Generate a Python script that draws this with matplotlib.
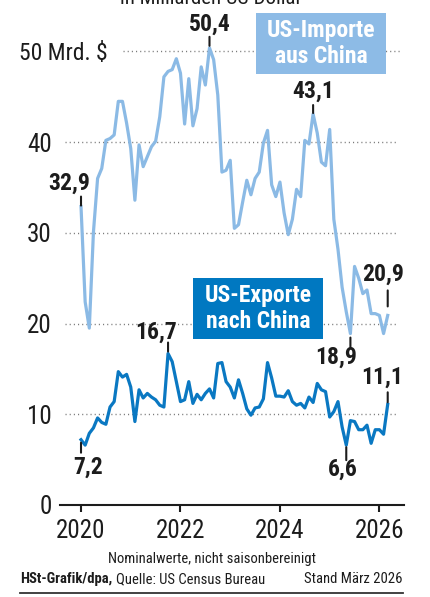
import matplotlib
matplotlib.use("Agg")
import matplotlib.pyplot as plt
from matplotlib import font_manager as fm
from matplotlib.patches import Rectangle
from matplotlib.lines import Line2D

# ---------------- data (billion US$) ----------------
years = [2020, 2022, 2024, 2026]
year_labels = ["2020", "2022", "2024", "2026"]
y_ticks = [0, 10, 20, 30, 40]

imports = [32.9, 22.4, 19.5, 30.1, 36.0, 37.1, 40.2, 40.4, 40.8, 44.5,
           44.5, 42.1, 39.3, 33.6, 39.7, 37.3, 38.4, 39.5, 40.1, 42.8,
           47.2, 47.8, 48.0, 49.2, 47.6, 42.0, 47.0, 41.8, 43.7, 48.3,
           46.3, 50.4, 49.1, 45.2, 36.7, 36.9, 38.0, 30.5, 30.9, 33.4,
           35.8, 34.2, 36.0, 36.7, 39.9, 41.3, 35.3, 34.0, 35.6, 32.2,
           29.8, 31.5, 34.8, 34.0, 40.2, 39.8, 43.1, 41.0, 37.8, 37.4,
           41.4, 31.5, 28.2, 24.0, 21.3, 18.9, 26.3, 25.0, 23.3, 23.7,
           21.1, 21.1, 20.9, 18.9, 20.9]

exports = [7.2, 6.6, 7.9, 8.5, 9.6, 9.1, 8.9, 10.8, 11.4, 14.7,
           14.1, 14.4, 13.0, 9.2, 12.7, 11.8, 12.3, 11.9, 11.6, 11.0,
           10.8, 16.7, 15.8, 13.6, 11.4, 11.6, 13.6, 11.2, 12.2, 11.6,
           12.3, 12.8, 11.8, 15.6, 15.7, 13.6, 13.0, 11.8, 13.8, 12.3,
           10.6, 9.9, 10.7, 10.8, 11.7, 15.7, 14.0, 12.0, 12.0, 11.9,
           12.6, 11.4, 11.0, 11.2, 10.7, 11.9, 11.3, 13.4, 12.7, 12.5,
           9.7, 10.3, 11.4, 8.6, 6.6, 9.3, 9.2, 8.3, 8.3, 8.8,
           6.8, 8.3, 8.3, 7.8, 11.1]

months = list(range(len(imports)))

# ---------------- style ----------------
names = {f.name for f in fm.fontManager.ttflist}
FONT = next(c for c in ["Roboto Condensed", "Liberation Sans Narrow", "Roboto"] if c in names)
plt.rcParams["font.family"] = [FONT, "DejaVu Sans"]

C_IMP = "#8bbae5"
C_IMP_BOX = "#8dbbe6"
C_EXP = "#0a78c2"
C_EXP_BOX = "#0078c1"
C_TXT = "#1c1c1c"
C_GRID = "#7a7a7a"

W, H = 430, 597
fig = plt.figure(figsize=(W / 100, H / 100), dpi=100)
fig.patch.set_facecolor("white")

def fx(px):
    return px / W

def fy(py):
    return 1 - py / H

# axes placed in pixel terms
ax = fig.add_axes([fx(60), fy(505), (404 - 60) / W, (505 - 10) / H])
ax.set_xlim(-5.07, 77.93)
ax.set_ylim(0, 54.57)
ax.set_facecolor("none")
for s in ["left", "right", "top"]:
    ax.spines[s].set_visible(False)
ax.spines["bottom"].set_color(C_TXT)
ax.spines["bottom"].set_linewidth(1.5)

ax.set_xticks([(y - 2020) * 12 for y in years])
ax.set_xticklabels(year_labels)
ax.set_yticks(y_ticks)
ax.set_yticklabels([str(v) for v in y_ticks])
ax.tick_params(axis="x", direction="out", length=5, width=1.5, color=C_TXT,
               labelsize=18, labelcolor=C_TXT, pad=5)
ax.tick_params(axis="y", length=0, labelsize=18, labelcolor=C_TXT, pad=6)

# dotted grid lines
for v in [10, 20, 30, 40]:
    ax.plot([-3.9, 76.5], [v, v], color=C_GRID, lw=1.0, dashes=(0.8, 2.2), zorder=1)
ax.plot([10.2, 77.0], [50, 50], color=C_GRID, lw=1.0, dashes=(0.8, 2.2), zorder=1)
fig.text(fx(108), fy(53), "50 Mrd. $", ha="right", va="center", fontsize=17, color=C_TXT)

# lines
ax.plot(months, imports, color=C_IMP, lw=2.3, solid_joinstyle="round", zorder=3)
ax.plot(months, exports, color=C_EXP, lw=2.3, solid_joinstyle="round", zorder=3)

# value labels with leader lines (offsets in pixels)
def label(series, i, text, dx, dy, l1, l2):
    v = series[i]
    ax.annotate("", xy=(i, v), xytext=(0, l2), textcoords="offset pixels",
                arrowprops=dict(arrowstyle="-", lw=1.5, color=C_TXT,
                                shrinkA=0, shrinkB=abs(l1) * 0.72), zorder=4)
    ax.annotate(text, xy=(i, v), xytext=(dx, dy), textcoords="offset pixels",
                ha="center", va="center", fontsize=17, fontweight="bold",
                color=C_TXT, zorder=5)

label(imports, 31, "50,4", 0, 24, 2, 11)
label(imports, 56, "43,1", 0, 23, 1, 9)
label(imports, 0, "32,9", -12, 23, 1, 10)
label(imports, 74, "20,9", -5, 41, 9, 25)
label(imports, 65, "18,9", -14, -24, -4, -14)
label(exports, 21, "16,7", -12, 21, 2, 11)
label(exports, 74, "11,1", -6, 27, 2, 12)
label(exports, 0, "7,2", 7, -28, -3, -13)
label(exports, 64, "6,6", -3, -24, -2, -15)

# legend boxes
fig.patches.append(Rectangle((fx(256), fy(74)), 130 / W, 61 / H, transform=fig.transFigure,
                             facecolor=C_IMP_BOX, edgecolor="none", zorder=6))
fig.text(fx(321), fy(43.5), "US-Importe\naus China", ha="center", va="center",
         fontsize=17, fontweight="bold", color="white", linespacing=1.2, zorder=7)
fig.patches.append(Rectangle((fx(193), fy(339)), 130 / W, 61 / H, transform=fig.transFigure,
                             facecolor=C_EXP_BOX, edgecolor="none", zorder=6))
fig.text(fx(258), fy(308.5), "US-Exporte\nnach China", ha="center", va="center",
         fontsize=17, fontweight="bold", color="white", linespacing=1.2, zorder=7)

# titles / footer
fig.text(fx(211), fy(4), "in Milliarden US-Dollar", ha="center", va="baseline",
         fontsize=15, color=C_TXT)
fig.text(fx(212), fy(559), "Nominalwerte, nicht saisonbereinigt", ha="center", va="center",
         fontsize=10.5, color=C_TXT)
fig.text(fx(20), fy(579), "HSt-Grafik/dpa,", ha="left", va="center", fontsize=10.5,
         fontweight="bold", color=C_TXT)
fig.text(fx(116), fy(579), "Quelle: US Census Bureau", ha="left", va="center", fontsize=10.5,
         color=C_TXT)
fig.text(fx(403), fy(579), "Stand März 2026", ha="right", va="center", fontsize=10.5,
         color=C_TXT)
fig.lines.append(Line2D([fx(20), fx(403)], [fy(593), fy(593)], transform=fig.transFigure,
                        color="#333333", lw=1.3))

fig.savefig("out.png", dpi=100, facecolor="white")
